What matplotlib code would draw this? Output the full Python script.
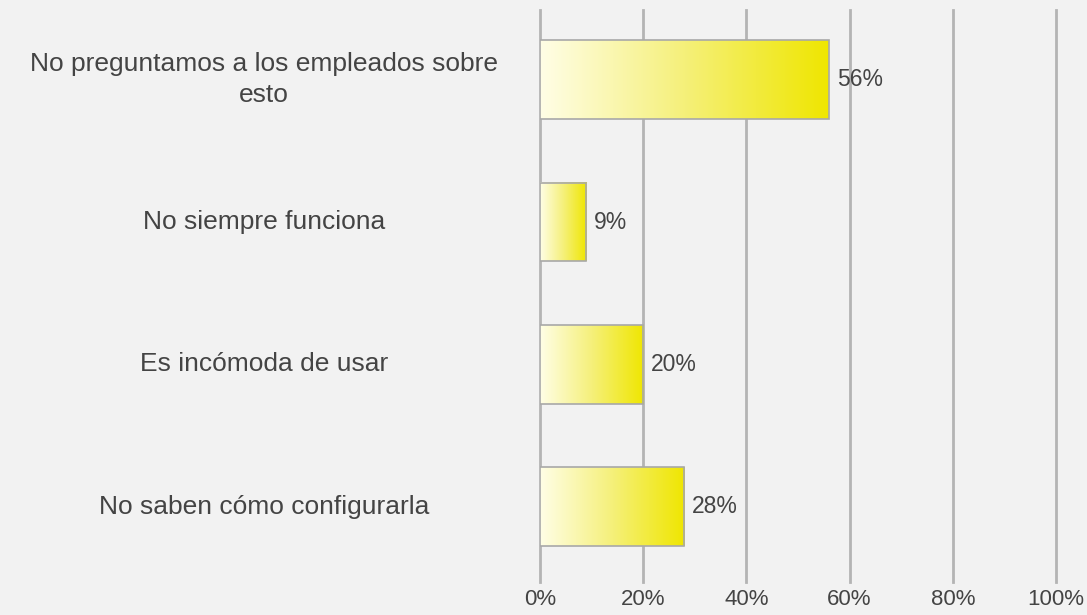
import numpy as np
import matplotlib.pyplot as plt
from matplotlib.colors import LinearSegmentedColormap

categories = ["No preguntamos a los empleados sobre\nesto",
              "No siempre funciona",
              "Es incómoda de usar",
              "No saben cómo configurarla"]
values = [56, 9, 20, 28]
xticks = [0, 20, 40, 60, 80, 100]


def main():
    plt.rcParams['font.family'] = ['Liberation Sans', 'DejaVu Sans']
    bg = '#f2f2f2'
    fig = plt.figure(figsize=(10.87, 6.15), dpi=100, facecolor=bg)
    ax = fig.add_axes([540 / 1087, 33 / 615, 516 / 1087, 572 / 615])
    ax.set_facecolor(bg)

    cmap = LinearSegmentedColormap.from_list('yel', ['#fffee6', '#f5f07a', '#efe600'])
    grad = np.linspace(0, 1, 256).reshape(1, -1)
    h = 0.555

    for x in xticks:
        ax.axvline(x, color='#b4b4b4', lw=2, zorder=1, clip_on=False)

    for i, v in enumerate(values):
        ax.imshow(grad, cmap=cmap, aspect='auto', extent=(0, v, i + h / 2, i - h / 2),
                  zorder=2, interpolation='bilinear')
        ax.add_patch(plt.Rectangle((0, i - h / 2), v, h, fill=False,
                                   edgecolor='#a8a8a8', lw=1.2, zorder=3))
        ax.text(v + 1.5, i, f"{v}%", va='center', ha='left', fontsize=16.5, color='#444444')
        ax.text(-53.5, i, categories[i], va='center', ha='center', multialignment='center',
                fontsize=19, color='#444444', linespacing=1.35)

    ax.set_xlim(0, 100)
    ax.set_ylim(3.53, -0.49)
    ax.set_xticks(xticks)
    ax.set_xticklabels([f"{x}%" for x in xticks], fontsize=16, color='#444444')
    ax.tick_params(axis='x', length=0, pad=5)
    ax.set_yticks([])
    for s in ax.spines.values():
        s.set_visible(False)

    fig.savefig('out.png', dpi=100, facecolor=bg)


if __name__ == "__main__":
    main()
